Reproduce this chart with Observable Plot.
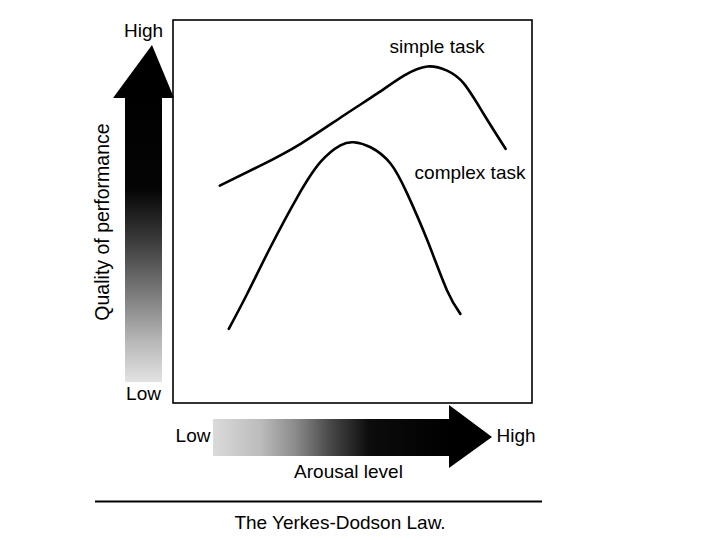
<!DOCTYPE html>
<html>
<head>
<meta charset="utf-8">
<script src="https://cdn.jsdelivr.net/npm/d3@7"></script>
<script src="https://cdn.jsdelivr.net/npm/@observablehq/plot@0.6"></script>
<style>
  html, body { margin: 0; padding: 0; background: #fff; }
</style>
</head>
<body>
<div id="chart"></div>
<script>
// Arousal level (0–100) and quality of performance (0–100)
const simpleArousal = [12.9, 24.2, 35.4, 47.4, 56.7, 64.2, 70.7, 76.2, 80.9, 86.4, 92.5];
const simplePerf    = [56.9, 62.1, 67.8, 75.2, 80.9, 85.6, 88.0, 86.9, 83.5, 75.6, 66.5];
const complexArousal = [15.4, 20.5, 27.0, 34.5, 40.9, 46.5, 50.2, 54.9, 60.5, 65.1, 70.7, 76.2, 79.9];
const complexPerf    = [19.5, 28.6, 40.8, 53.9, 63.0, 67.4, 68.2, 66.9, 62.6, 54.8, 42.6, 29.5, 23.4];

const curveNames = ["simple task", "complex task"];
const labelArousal = [73.4, 82.6];
const labelPerf = [93.0, 60.2];

const axisEnds = ["Low", "High"];
const yAxisTitle = "Quality of performance";
const xAxisTitle = "Arousal level";
const caption = "The Yerkes-Dodson Law.";

const rows = [];
simpleArousal.forEach((a, i) => rows.push({task: curveNames[0], arousal: a, perf: simplePerf[i]}));
complexArousal.forEach((a, i) => rows.push({task: curveNames[1], arousal: a, perf: complexPerf[i]}));
const labels = curveNames.map((t, i) => ({task: t, arousal: labelArousal[i], perf: labelPerf[i]}));

const FONT = "'Liberation Sans', Arial, Helvetica, sans-serif";
const FS = 19;

const plot = Plot.plot({
  width: 720,
  height: 540,
  margin: 0,
  x: {domain: [0, 100], range: [173, 532], axis: null},
  y: {domain: [0, 100], range: [403, 20], axis: null},
  style: {fontFamily: FONT, fontSize: FS + "px", background: "#fff", color: "#000"},
  marks: [
    Plot.rect([{}], {x1: 0, x2: 100, y1: 0, y2: 100, fill: "none", stroke: "#000", strokeWidth: 1.6}),
    Plot.line(rows, {x: "arousal", y: "perf", z: "task", curve: "natural", stroke: "#000", strokeWidth: 2.6}),
    Plot.text(labels, {x: "arousal", y: "perf", text: "task", fill: "#000", fontSize: FS})
  ]
});

document.getElementById("chart").appendChild(plot);

// Decorations: gradient arrows, end labels, rule and caption
const svg = d3.select(plot);
const defs = svg.insert("defs", ":first-child");
const vg = defs.append("linearGradient").attr("id", "vgrad")
  .attr("gradientUnits", "userSpaceOnUse").attr("x1", 0).attr("x2", 0).attr("y1", 98).attr("y2", 385);
[[0, "#000"], [0.32, "#050505"], [0.5, "#3c3c3c"], [0.68, "#7a7a7a"], [0.85, "#b8b8b8"], [1, "#e6e6e6"]]
  .forEach(([o, c]) => vg.append("stop").attr("offset", o).attr("stop-color", c));
const hg = defs.append("linearGradient").attr("id", "hgrad")
  .attr("gradientUnits", "userSpaceOnUse").attr("x1", 213).attr("x2", 450).attr("y1", 0).attr("y2", 0);
[[0, "#dadada"], [0.2, "#bcbcbc"], [0.35, "#8a8a8a"], [0.5, "#464646"], [0.66, "#0c0c0c"], [1, "#000"]]
  .forEach(([o, c]) => hg.append("stop").attr("offset", o).attr("stop-color", c));

const g = svg.append("g");
// vertical arrow
g.append("rect").attr("x", 125).attr("y", 97).attr("width", 37).attr("height", 285).attr("fill", "url(#vgrad)");
g.append("path").attr("d", "M152,45 L174,98 L113,98 Z").attr("fill", "#000");
// horizontal arrow
g.append("rect").attr("x", 213).attr("y", 419).attr("width", 238).attr("height", 37).attr("fill", "url(#hgrad)");
g.append("path").attr("d", "M492,437 L449,405 L449,468 Z").attr("fill", "#000");

const txt = (x, y, s, size, extra) => {
  const t = g.append("text").attr("x", x).attr("y", y).attr("text-anchor", "middle")
    .attr("font-family", FONT).attr("font-size", size).attr("fill", "#000").text(s);
  if (extra) extra(t);
  return t;
};
txt(143.5, 37, axisEnds[1], FS);
txt(143.5, 400, axisEnds[0], FS);
txt(109, 222, yAxisTitle, 19.5, t => t.attr("transform", "rotate(-90 109 222)"));
txt(193, 442, axisEnds[0], FS);
txt(516, 442, axisEnds[1], FS);
txt(348.5, 478, xAxisTitle, FS);
g.append("line").attr("x1", 95).attr("x2", 542).attr("y1", 501.5).attr("y2", 501.5).attr("stroke", "#000").attr("stroke-width", 2);
txt(340, 529, caption, FS);
</script>
</body>
</html>
